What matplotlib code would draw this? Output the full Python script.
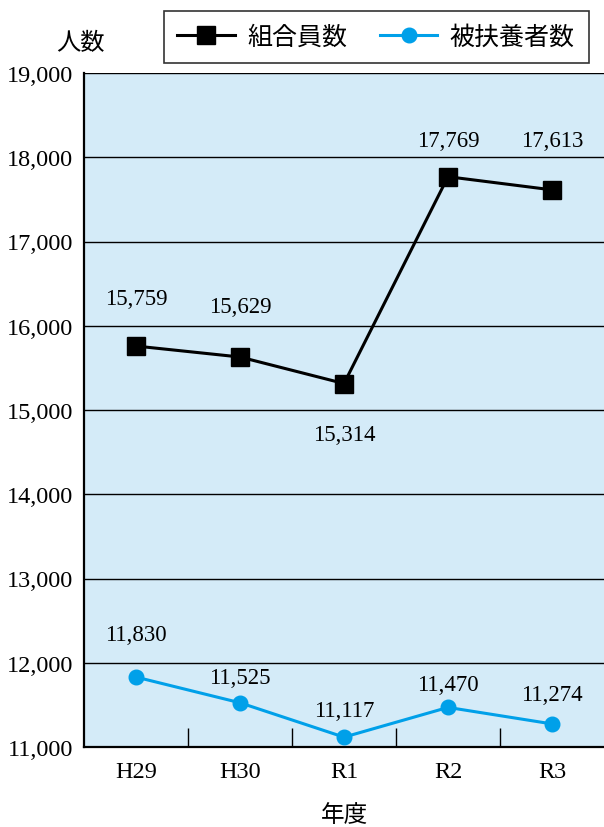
import matplotlib
matplotlib.use("Agg")
import matplotlib.pyplot as plt
from matplotlib.ticker import FixedLocator, FuncFormatter
import numpy as np

plt.rcParams['font.family'] = ['Liberation Serif', 'Noto Sans CJK JP']

# data
years = ['H29', 'H30', 'R1', 'R2', 'R3']
members = [15759, 15629, 15314, 17769, 17613]
dependents = [11830, 11525, 11117, 11470, 11274]
series_names = ['組合員数', '被扶養者数']
y_label = '人数'
x_label = '年度'

# label offsets in pixels (dx, dy), per point
member_off = [(0, 48), (0, 51), (0, -51), (0, 36), (0, 49)]
dep_off = [(0, 43), (0, 25), (0, 27), (0, 23), (0, 29)]

bg = '#d4ebf8'
blue = '#00a0e9'

fig = plt.figure(figsize=(6.04, 8.28), dpi=100)
ax = fig.add_axes([84/604, 80/828, 1 - 84/604, 674/828])
ax.set_facecolor(bg)

x = np.arange(len(years))
ax.plot(x, members, color='black', lw=2.2, marker='s', ms=13, label=series_names[0], zorder=3)
ax.plot(x, dependents, color=blue, lw=2.2, marker='o', ms=10.5, label=series_names[1], zorder=3)

for xi, v, (dx, dy) in zip(x, members, member_off):
    ax.annotate(f'{v:,}', (xi, v), xytext=(dx, dy), textcoords='offset pixels',
                ha='center', va='center', fontsize=16.5)
for xi, v, (dx, dy) in zip(x, dependents, dep_off):
    ax.annotate(f'{v:,}', (xi, v), xytext=(dx, dy), textcoords='offset pixels',
                ha='center', va='center', fontsize=16.5)

ax.set_xlim(-0.5, len(years) - 0.5)
ax.set_ylim(11000, 19000)
ax.set_yticks(np.arange(11000, 19001, 1000))
ax.yaxis.set_major_formatter(FuncFormatter(lambda v, p: f'{int(v):,}'))
ax.grid(axis='y', color='black', lw=1)
ax.set_axisbelow(True)
ax.tick_params(axis='y', length=0, pad=8, labelsize=17.5)

ax.set_xticks(x)
ax.set_xticklabels(years)
ax.xaxis.set_minor_locator(FixedLocator(x[:-1] + 0.5))
ax.tick_params(axis='x', which='major', length=0, pad=10, labelsize=17.5)
ax.tick_params(axis='x', which='minor', direction='in', length=14, width=1)

for s in ['top', 'right']:
    ax.spines[s].set_visible(False)
for s in ['left', 'bottom']:
    ax.spines[s].set_linewidth(1.6)

ax.set_xlabel(x_label, fontsize=17, labelpad=16)
fig.text(80/604, 1 - 44/828, y_label, ha='center', va='center', fontsize=17.5)

leg = fig.legend(loc='center', bbox_to_anchor=(376/604, 1 - 38/828), ncol=2,
                 fontsize=18, frameon=True, fancybox=False, edgecolor='black',
                 handlelength=2.3, columnspacing=1.3, borderpad=0.55,
                 handletextpad=0.5)
leg.get_frame().set_linewidth(1.2)

fig.savefig('out.png', dpi=100)
